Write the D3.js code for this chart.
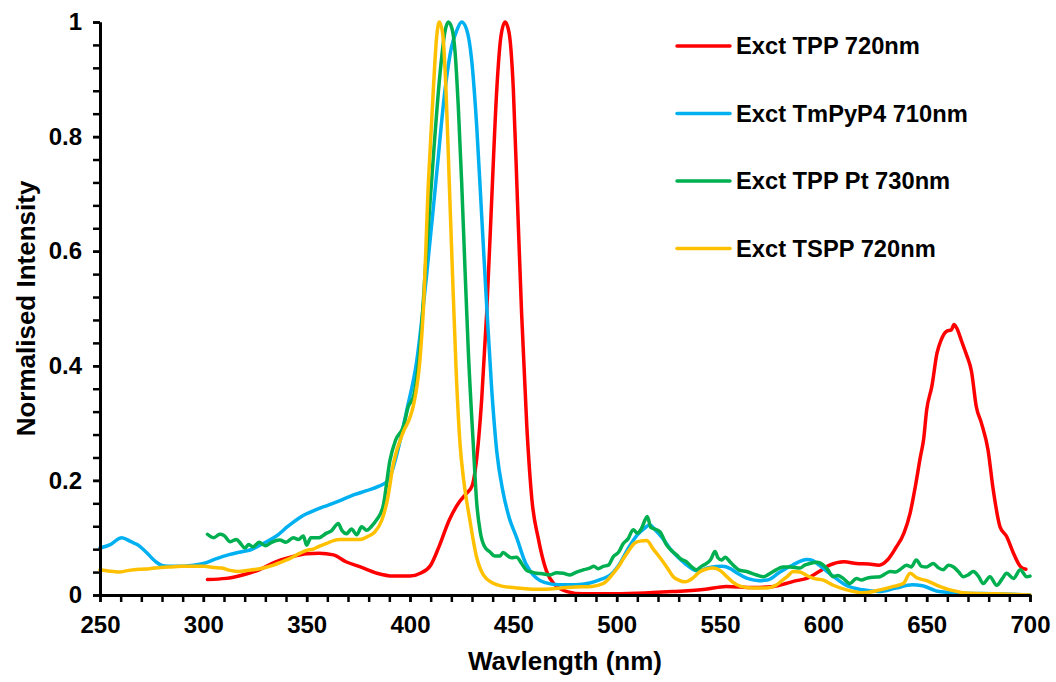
<!DOCTYPE html>
<html>
<head>
<meta charset="utf-8">
<script src="https://cdn.jsdelivr.net/npm/d3@7"></script>
<style>
  body { margin: 0; background: #fff; }
  svg { display: block; }
  text { font-family: "Liberation Sans", Arial, sans-serif; font-weight: bold; fill: #000; }
</style>
</head>
<body>
<svg id="chart" width="1056" height="682"></svg>
<script>
// Excitation spectra, normalised to the Soret maximum of each porphyrin
const seriesNames = ["Exct TPP 720nm", "Exct TmPyP4 710nm", "Exct TPP Pt 730nm", "Exct TSPP 720nm"];
const seriesColors = ["#FF0000", "#00B0F0", "#00B050", "#FFC000"];

const tppWl = [302, 311, 319, 327, 335, 343, 350, 356, 363, 369, 376, 384, 392, 400, 405, 410, 414, 419, 424, 427, 430, 432, 434.7, 437.1, 439.5, 442, 444, 446, 448, 450, 452, 454, 456.5, 459, 462, 466, 470, 476, 484, 495, 510, 527, 543, 553, 566, 576, 582, 587, 592, 598, 603, 610, 616, 622, 627, 631, 635, 639, 642, 644.5, 647, 648.5, 650, 652.5, 655, 657, 659.5, 662, 663.2, 664.5, 667, 669.3, 671.7, 674, 676.5, 679.7, 682, 685.5, 688.7, 692, 695.3, 698];
const tppVal = [0.027, 0.029, 0.035, 0.044, 0.058, 0.067, 0.072, 0.073, 0.07, 0.058, 0.049, 0.038, 0.033, 0.033, 0.038, 0.052, 0.084, 0.131, 0.163, 0.176, 0.19, 0.23, 0.342, 0.492, 0.687, 0.883, 0.975, 1.0, 0.98, 0.883, 0.687, 0.492, 0.296, 0.166, 0.1, 0.042, 0.018, 0.006, 0.002, 0.002, 0.003, 0.006, 0.01, 0.015, 0.013, 0.015, 0.02, 0.025, 0.029, 0.041, 0.052, 0.058, 0.055, 0.054, 0.052, 0.061, 0.082, 0.108, 0.143, 0.189, 0.242, 0.271, 0.323, 0.364, 0.422, 0.445, 0.46, 0.463, 0.472, 0.466, 0.442, 0.419, 0.39, 0.329, 0.3, 0.253, 0.189, 0.119, 0.102, 0.073, 0.05, 0.045];

const tmpyWl = [250, 255, 260.5, 265, 268, 272, 277, 280.5, 285, 290, 295, 300, 306, 312, 318, 323, 329, 335, 341, 347.5, 354, 360.5, 367, 373, 379, 385, 389.5, 393.5, 398.4, 403.2, 408, 413, 417, 420, 422.6, 425, 427.4, 429.8, 432.3, 434.7, 437.1, 439.5, 442, 445, 448, 451.6, 456, 461, 465, 472, 480, 487, 492, 497, 501, 506, 510, 513, 516, 519, 522, 526, 530, 534, 539, 545, 551, 555, 558, 564, 569, 573, 579, 585, 592, 595, 598, 605, 611, 619, 627, 635, 643, 648, 656, 668, 684, 700];
const tmpyVal = [0.082, 0.088, 0.1, 0.093, 0.088, 0.076, 0.058, 0.051, 0.05, 0.05, 0.052, 0.055, 0.063, 0.07, 0.075, 0.079, 0.09, 0.102, 0.12, 0.137, 0.148, 0.157, 0.166, 0.175, 0.182, 0.19, 0.2, 0.244, 0.322, 0.407, 0.557, 0.739, 0.883, 0.955, 0.985, 1.0, 0.987, 0.935, 0.817, 0.661, 0.505, 0.361, 0.25, 0.18, 0.135, 0.1, 0.055, 0.03, 0.022, 0.018, 0.018, 0.021, 0.027, 0.035, 0.052, 0.084, 0.105, 0.115, 0.122, 0.112, 0.1, 0.08, 0.065, 0.052, 0.042, 0.048, 0.05, 0.046, 0.039, 0.028, 0.025, 0.026, 0.04, 0.052, 0.062, 0.06, 0.052, 0.032, 0.017, 0.009, 0.006, 0.012, 0.018, 0.016, 0.006, 0.003, 0.002, 0.0];

const tppPtWl = [302, 305, 308, 310, 313, 316, 318, 320, 322, 324, 327, 330, 333, 337, 340, 343.5, 346, 348.4, 350, 352, 356, 359.6, 362, 365.3, 367, 369.3, 371.7, 374.2, 376.6, 379, 381.4, 383.8, 387, 390.3, 393, 396.8, 399.2, 401.6, 404.8, 408, 411.3, 414.5, 417, 418.5, 420.2, 421.8, 423.4, 425, 426.6, 428.2, 430.6, 432.3, 434, 436, 438.7, 441, 443.5, 445, 446.8, 449, 451.6, 454, 456.4, 459, 461.3, 464, 467.7, 471, 474.2, 477.4, 480.6, 484, 487, 489, 491, 493.5, 496, 498.4, 501, 503.2, 505.5, 508, 510, 512, 514.8, 516.5, 518.5, 521, 524.2, 527, 529, 531, 533.8, 536, 538.7, 541, 543.5, 545.5, 547.6, 549, 550.8, 552.5, 554.8, 557, 559, 562.9, 567.7, 571, 573.5, 575.8, 580.6, 584, 588.7, 591, 593.5, 597, 600, 602, 604.8, 607, 609.6, 612.9, 616, 618.5, 620.8, 624, 627.4, 630, 632.3, 635, 637, 640.3, 642.5, 645, 647.5, 650, 653.2, 655.5, 658, 660.5, 663, 665.5, 667.7, 670, 672.6, 675, 677.4, 680.6, 683.9, 686.5, 688.7, 692, 695.3, 698.4, 700];
const tppPtVal = [0.106, 0.1, 0.106, 0.104, 0.093, 0.097, 0.09, 0.082, 0.088, 0.084, 0.092, 0.086, 0.092, 0.096, 0.092, 0.1, 0.097, 0.103, 0.087, 0.1, 0.1, 0.108, 0.112, 0.125, 0.113, 0.107, 0.115, 0.105, 0.119, 0.113, 0.12, 0.131, 0.155, 0.235, 0.27, 0.294, 0.329, 0.345, 0.43, 0.6, 0.765, 0.909, 0.985, 1.0, 0.99, 0.948, 0.85, 0.72, 0.57, 0.427, 0.264, 0.16, 0.11, 0.085, 0.075, 0.068, 0.068, 0.074, 0.07, 0.065, 0.066, 0.055, 0.043, 0.04, 0.038, 0.037, 0.035, 0.039, 0.038, 0.035, 0.04, 0.044, 0.047, 0.05, 0.046, 0.05, 0.052, 0.067, 0.075, 0.09, 0.098, 0.114, 0.108, 0.116, 0.137, 0.118, 0.115, 0.11, 0.087, 0.076, 0.07, 0.063, 0.058, 0.05, 0.044, 0.05, 0.055, 0.062, 0.076, 0.065, 0.061, 0.066, 0.058, 0.05, 0.044, 0.041, 0.035, 0.032, 0.036, 0.041, 0.049, 0.049, 0.047, 0.052, 0.055, 0.057, 0.052, 0.045, 0.032, 0.034, 0.029, 0.02, 0.029, 0.026, 0.029, 0.031, 0.032, 0.037, 0.041, 0.04, 0.044, 0.052, 0.049, 0.061, 0.05, 0.049, 0.055, 0.048, 0.044, 0.052, 0.049, 0.04, 0.032, 0.035, 0.041, 0.033, 0.02, 0.032, 0.017, 0.028, 0.038, 0.029, 0.044, 0.032, 0.033];

const tsppWl = [250, 254, 259, 264, 269, 274, 279.5, 284, 289.5, 295, 300.5, 305, 309, 313, 317, 321.8, 326, 330, 334, 338, 342, 346.8, 350, 353.2, 356, 359.7, 363, 366, 371, 376, 380, 383, 386.3, 389, 392, 396.8, 400, 401.6, 404.8, 406.5, 408.9, 411.3, 412.9, 414.2, 415.8, 417.4, 419, 420.6, 422.3, 424.2, 426, 429, 432.3, 435.5, 440, 445, 450, 461.3, 472.6, 480, 488, 493.5, 498.4, 501, 503.2, 506, 508.5, 511.3, 514.5, 517.7, 521, 524.2, 527.4, 530, 533, 537, 540, 543, 546.8, 550, 553, 556, 560, 566, 572.6, 577, 580, 582.5, 585.5, 588.7, 592, 595.2, 600, 604.8, 611.3, 619.4, 627.4, 634, 638.7, 642, 645.2, 650, 655, 661.3, 671, 684, 700];
const tsppVal = [0.044, 0.042, 0.04, 0.043, 0.045, 0.046, 0.048, 0.049, 0.05, 0.05, 0.05, 0.048, 0.047, 0.043, 0.041, 0.043, 0.045, 0.048, 0.052, 0.058, 0.064, 0.073, 0.078, 0.08, 0.085, 0.09, 0.095, 0.097, 0.097, 0.097, 0.103, 0.11, 0.13, 0.165, 0.23, 0.285, 0.31, 0.33, 0.41, 0.5, 0.72, 0.883, 0.974, 1.0, 0.98, 0.883, 0.72, 0.557, 0.394, 0.264, 0.2, 0.13, 0.065, 0.035, 0.021, 0.015, 0.013, 0.01, 0.012, 0.014, 0.015, 0.02, 0.038, 0.05, 0.063, 0.078, 0.09, 0.094, 0.095, 0.08, 0.065, 0.049, 0.032, 0.026, 0.023, 0.03, 0.04, 0.045, 0.047, 0.043, 0.033, 0.023, 0.015, 0.012, 0.012, 0.017, 0.025, 0.032, 0.041, 0.04, 0.034, 0.029, 0.026, 0.017, 0.009, 0.004, 0.009, 0.015, 0.02, 0.038, 0.03, 0.025, 0.017, 0.009, 0.003, 0.002, 0.0];

const xMajorTicks = [250, 300, 350, 400, 450, 500, 550, 600, 650, 700];
const yMajorTicks = [0, 0.2, 0.4, 0.6, 0.8, 1];
const xTitle = "Wavlength (nm)";
const yTitle = "Normalised Intensity";

const series = [
  { name: seriesNames[0], color: seriesColors[0], wl: tppWl, val: tppVal },
  { name: seriesNames[1], color: seriesColors[1], wl: tmpyWl, val: tmpyVal },
  { name: seriesNames[2], color: seriesColors[2], wl: tppPtWl, val: tppPtVal },
  { name: seriesNames[3], color: seriesColors[3], wl: tsppWl, val: tsppVal }
];

const svg = d3.select("#chart");
const plot = { left: 100, right: 1030, top: 22, bottom: 595 };

const x = d3.scaleLinear().domain([250, 700]).range([plot.left, plot.right]);
const y = d3.scaleLinear().domain([0, 1]).range([plot.bottom, plot.top]);

// spectra
const line = d3.line()
  .x(d => x(d[0]))
  .y(d => y(d[1]))
  .curve(d3.curveMonotoneX);

svg.append("g").selectAll("path")
  .data(series)
  .join("path")
  .attr("d", s => line(s.wl.map((w, i) => [w, s.val[i]])))
  .attr("fill", "none")
  .attr("stroke", s => s.color)
  .attr("stroke-width", 3.5)
  .attr("stroke-linejoin", "round")
  .attr("stroke-linecap", "round");

// axes: minor ticks first, then labelled major ticks
const fmtY = d => (d === 0 || d === 1) ? String(d) : d3.format(".1f")(d);

svg.append("g").attr("transform", `translate(${plot.left},0)`)
  .call(d3.axisLeft(y).tickValues(d3.range(0, 1.0001, 0.04)).tickSize(7).tickSizeOuter(0).tickFormat(""));
svg.append("g").attr("transform", `translate(${plot.left},0)`)
  .call(d3.axisLeft(y).tickValues(yMajorTicks).tickSize(7).tickSizeOuter(0).tickPadding(11).tickFormat(fmtY));

svg.append("g").attr("transform", `translate(0,${plot.bottom})`)
  .call(d3.axisBottom(x).tickValues(d3.range(250, 700.001, 10)).tickSize(7).tickSizeOuter(0).tickFormat(""));
svg.append("g").attr("transform", `translate(0,${plot.bottom})`)
  .call(d3.axisBottom(x).tickValues(xMajorTicks).tickSize(7).tickSizeOuter(0).tickPadding(14).tickFormat(d3.format("d")));

svg.selectAll(".domain").attr("stroke", "#000").attr("stroke-width", 3);
svg.selectAll(".tick line").attr("stroke", "#000").attr("stroke-width", 2.5);
svg.selectAll(".tick text")
  .attr("font-family", "'Liberation Sans', Arial, sans-serif")
  .attr("font-weight", "bold")
  .attr("font-size", 24)
  .attr("fill", "#000");

// axis titles
svg.append("text")
  .attr("x", (plot.left + plot.right) / 2)
  .attr("y", 670)
  .attr("text-anchor", "middle")
  .attr("font-size", 26)
  .text(xTitle);

svg.append("text")
  .attr("transform", `translate(35,${(plot.top + plot.bottom) / 2}) rotate(-90)`)
  .attr("text-anchor", "middle")
  .attr("font-size", 26)
  .text(yTitle);

// legend
const legend = svg.append("g").selectAll("g")
  .data(series)
  .join("g")
  .attr("transform", (s, i) => `translate(677,${46 + i * 67.5})`);

legend.append("line")
  .attr("x1", 0).attr("x2", 53)
  .attr("stroke", s => s.color)
  .attr("stroke-width", 3.5)
  .attr("stroke-linecap", "round");

legend.append("text")
  .attr("x", 59)
  .attr("dy", "0.35em")
  .attr("font-size", 23.7)
  .text(s => s.name);
</script>
</body>
</html>
